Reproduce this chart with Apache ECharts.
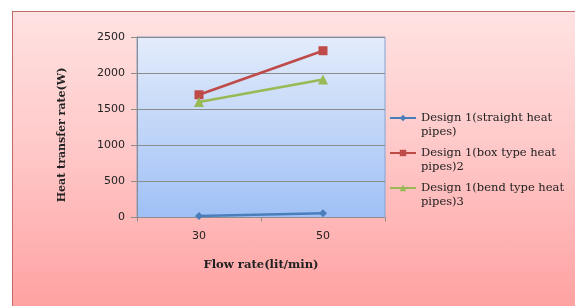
<!DOCTYPE html>
<html>
<head>
<meta charset="utf-8">
<script src="https://cdn.jsdelivr.net/npm/echarts@6/dist/echarts.min.js"></script>
<style>
  body { margin: 0; background: #fff; }
  .frame {
    position: absolute; left: 12px; top: 11px; right: 0; bottom: 0;
    border-left: 1px solid #c46a6a; border-top: 1px solid #c46a6a;
    background: linear-gradient(to bottom, #ffe2e2 0%, #ffc6c6 50%, #ffa2a2 100%);
  }
  .chart { position: absolute; left: 0; top: 0; width: 575px; height: 306px; }
</style>
</head>
<body>
<div class="frame"></div>
<div class="chart" id="chart"></div>
<script>
const flowRates = ['30', '50'];
const straightPipes = [20, 60];
const boxTypePipes = [1700, 2310];
const bendTypePipes = [1600, 1910];
const seriesNames = [
  'Design 1(straight heat pipes)',
  'Design 1(box type heat pipes)2',
  'Design 1(bend type heat pipes)3'
];
// leading blank line keeps the first text line level with the legend icon
const legendLines = {
  'Design 1(straight heat pipes)': '\nDesign 1(straight heat\npipes)',
  'Design 1(box type heat pipes)2': '\nDesign 1(box type heat\npipes)2',
  'Design 1(bend type heat pipes)3': '\nDesign 1(bend type heat\npipes)3'
};

const chart = echarts.init(document.getElementById('chart'));

function lineSeries(name, data, color, symbol, size) {
  return {
    type: 'line',
    name: name,
    data: data,
    symbol: symbol,
    symbolSize: size,
    lineStyle: { color: color, width: 2.5 },
    itemStyle: { color: color },
    animation: false
  };
}

const option = {
  backgroundColor: 'transparent',
  grid: {
    left: 137, top: 37, width: 248, height: 180.5,
    show: true,
    borderColor: '#84a4d4',
    borderWidth: 1,
    backgroundColor: new echarts.graphic.LinearGradient(0, 0, 0, 1, [
      { offset: 0, color: '#e3ecfb' },
      { offset: 1, color: '#9fc0f6' }
    ])
  },
  legend: {
    orient: 'vertical',
    left: 389,
    top: 97,
    padding: 0,
    itemWidth: 26,
    itemHeight: 8,
    itemGap: -7,
    data: seriesNames,
    formatter: name => legendLines[name],
    textStyle: {
      fontFamily: 'DejaVu Serif',
      fontSize: 11.5,
      color: '#222',
      lineHeight: 14
    }
  },
  xAxis: {
    type: 'category',
    data: flowRates,
    boundaryGap: true,
    name: 'Flow rate(lit/min)',
    nameLocation: 'middle',
    nameGap: 41,
    nameTextStyle: { fontFamily: 'DejaVu Serif', fontWeight: 'bold', fontSize: 11.6, color: '#222' },
    axisLine: { lineStyle: { color: '#8c8c8c', width: 1 } },
    axisTick: { show: true, length: 4, lineStyle: { color: '#8c8c8c' } },
    axisLabel: { margin: 13, fontFamily: 'DejaVu Sans', fontSize: 11, color: '#222' }
  },
  yAxis: {
    type: 'value',
    min: 0,
    max: 2500,
    interval: 500,
    axisLine: { show: true, lineStyle: { color: '#8c8c8c', width: 1 } },
    axisTick: { show: true, length: 6, lineStyle: { color: '#8c8c8c' } },
    axisLabel: {
      margin: 12,
      fontFamily: 'DejaVu Sans',
      fontSize: 11,
      color: '#222',
      formatter: val => String(val)
    },
    splitLine: { lineStyle: { color: '#8c8c8c', width: 1 } }
  },
  graphic: [{
    type: 'text',
    x: 62,
    y: 135,
    rotation: Math.PI / 2,
    style: {
      text: 'Heat transfer rate(W)',
      font: 'bold 11px "DejaVu Serif"',
      fill: '#222',
      align: 'center',
      verticalAlign: 'middle'
    }
  }],
  series: [
    lineSeries(seriesNames[0], straightPipes, '#4a7ebb', 'diamond', 8),
    lineSeries(seriesNames[1], boxTypePipes, '#be4b48', 'rect', 9),
    lineSeries(seriesNames[2], bendTypePipes, '#98b954', 'triangle', 10)
  ]
};

chart.setOption(option);
</script>
</body>
</html>
